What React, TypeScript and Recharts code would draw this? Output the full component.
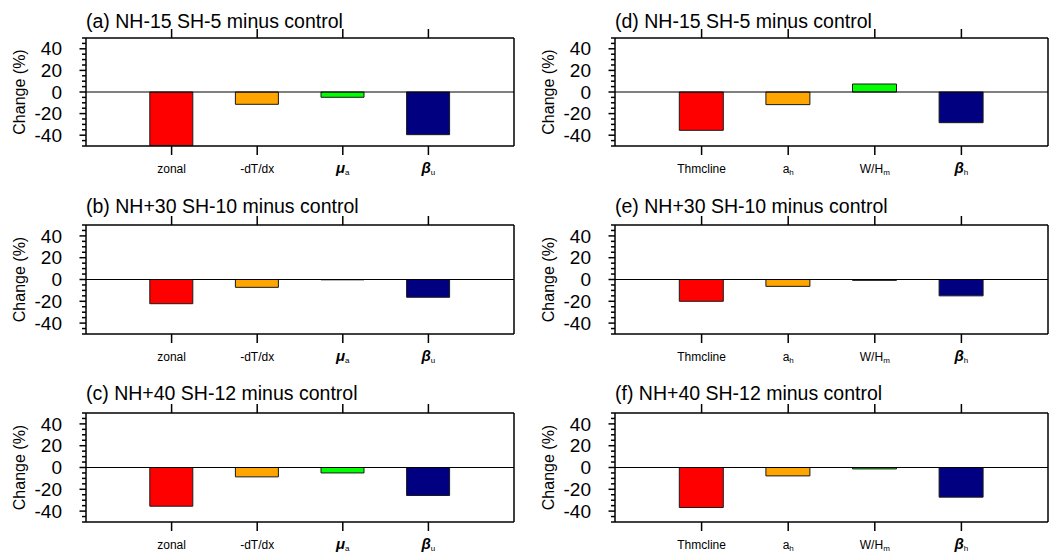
import { Bar, BarChart, Cell, ReferenceLine, XAxis, YAxis } from "recharts";

const FONT = '"Liberation Sans", Arial, Helvetica, sans-serif';

// category tick labels as [main, subscript]
const leftLabels: [string, string][] = [
  ["zonal", ""],
  ["-dT/dx", ""],
  ["μ", "a"],
  ["β", "u"],
];
const rightLabels: [string, string][] = [
  ["Thmcline", ""],
  ["a", "h"],
  ["W/H", "m"],
  ["β", "h"],
];

// percent change per panel
const panelA = [-49.5, -11.4, -4.9, -39.5];
const panelB = [-22.2, -7.2, -0.3, -16.3];
const panelC = [-35.5, -8.6, -5.0, -25.7];
const panelD = [-35.5, -11.7, 7.4, -28.4];
const panelE = [-20.0, -6.3, -0.8, -15.0];
const panelF = [-36.7, -7.7, -1.3, -27.2];

const titlesLeft = [
  "(a) NH-15 SH-5 minus control",
  "(b) NH+30 SH-10 minus control",
  "(c) NH+40 SH-12 minus control",
];
const titlesRight = [
  "(d) NH-15 SH-5 minus control",
  "(e) NH+30 SH-10 minus control",
  "(f) NH+40 SH-12 minus control",
];

const barColors = ["#ff0000", "#ffa500", "#00ff00", "#000080"];

const yTicks = [-50, -45, -40, -35, -30, -25, -20, -15, -10, -5, 0, 5, 10, 15, 20, 25, 30, 35, 40, 45, 50];
const yLabelTicks = [-40, -20, 0, 20, 40];

// layout (page px)
const rows = [
  { top: 38, h: 108, titleGap: 10 },
  { top: 225, h: 109, titleGap: 12 },
  { top: 413, h: 109, titleGap: 13 },
];
const cols = [
  { left: 86, w: 428, barSize: 43 },
  { left: 615, w: 433, barSize: 44 },
];

const PAD_L = 86;
const PAD_T = 38;
const PAD_R = 20;
const PAD_B = 42;
const TICK = "#000";
const TW = 1.5;

function LeftTick(props: any) {
  const { x, y, payload } = props;
  const major = yLabelTicks.includes(payload.value);
  return (
    <g>
      <line x1={x - (major ? 6.5 : 4)} x2={x} y1={y} y2={y} stroke={TICK} strokeWidth={TW} />
      {major ? (
        <text x={x - 24} y={y} dy="0.35em" textAnchor="end" fontSize={19} fontFamily={FONT} fill="#000">
          {payload.value}
        </text>
      ) : null}
    </g>
  );
}

function RightTick(props: any) {
  const { x, y, payload } = props;
  const major = yLabelTicks.includes(payload.value);
  return <line x1={x} x2={x + (major ? 6.5 : 4)} y1={y} y2={y} stroke={TICK} strokeWidth={TW} />;
}

function TopTick(props: any) {
  const { x, y } = props;
  return <line x1={x} x2={x} y1={y - 9} y2={y} stroke={TICK} strokeWidth={TW} />;
}

function CategoryTick(props: any) {
  const { x, y, payload, labels } = props;
  const idx = labels.findIndex((l: [string, string]) => l[0] + l[1] === payload.value);
  const [main, sub] = labels[idx] ?? [String(payload.value), ""];
  const greek = main === "μ" || main === "β";
  return (
    <g>
      <line x1={x} x2={x} y1={y} y2={y + 9} stroke={TICK} strokeWidth={TW} />
      <text x={x} y={y + 27} textAnchor="middle" fontFamily={FONT} fontSize={12} fill="#000">
        <tspan
          fontSize={greek ? 15 : 12}
          fontWeight={greek ? "bold" : "normal"}
          fontStyle={greek ? "italic" : "normal"}
        >
          {main}
        </tspan>
        {sub ? (
          <tspan fontSize={8} dy={2}>
            {sub}
          </tspan>
        ) : null}
      </text>
    </g>
  );
}

function Panel({
  title,
  values,
  labels,
  row,
  col,
}: {
  title: string;
  values: number[];
  labels: [string, string][];
  row: (typeof rows)[number];
  col: (typeof cols)[number];
}) {
  const data = labels.map((l, i) => ({ name: l[0] + l[1], value: values[i] }));
  const width = PAD_L + col.w + PAD_R;
  const height = PAD_T + row.h + PAD_B;
  const pad = { left: col.w / 10, right: col.w / 10 };

  return (
    <div style={{ position: "absolute", left: col.left - PAD_L, top: row.top - PAD_T, width, height }}>
      <BarChart width={width} height={height} data={data} margin={{ top: PAD_T - 10, right: 0, bottom: 0, left: 0 }}>
        <XAxis
          dataKey="name"
          xAxisId="bottom"
          orientation="bottom"
          height={PAD_B}
          padding={pad}
          interval={0}
          tickSize={0}
          tickMargin={0}
          tickLine={false}
          axisLine={{ stroke: "#000", strokeWidth: 1.5 }}
          tick={<CategoryTick labels={labels} />}
        />
        <XAxis
          dataKey="name"
          xAxisId="top"
          orientation="top"
          height={10}
          padding={pad}
          interval={0}
          tickSize={0}
          tickMargin={0}
          tickLine={false}
          axisLine={{ stroke: "#000", strokeWidth: 1.5 }}
          tick={TopTick}
          label={{
            content: () => (
              <text x={PAD_L} y={PAD_T - row.titleGap} fontFamily={FONT} fontSize={19.5} fill="#000">
                {title}
              </text>
            ),
          }}
        />
        <YAxis
          yAxisId="left"
          type="number"
          domain={[-50, 50]}
          ticks={yTicks}
          interval={0}
          width={PAD_L}
          tickSize={0}
          tickMargin={0}
          tickLine={false}
          axisLine={{ stroke: "#000", strokeWidth: 1.5 }}
          tick={LeftTick}
          label={{
            content: () => (
              <text
                x={25}
                y={PAD_T + row.h / 2}
                transform={`rotate(-90 25 ${PAD_T + row.h / 2})`}
                textAnchor="middle"
                fontFamily={FONT}
                fontSize={16}
                fill="#000"
              >
                Change (%)
              </text>
            ),
          }}
        />
        <YAxis
          yAxisId="right"
          orientation="right"
          type="number"
          domain={[-50, 50]}
          ticks={yTicks}
          interval={0}
          width={PAD_R}
          tickSize={0}
          tickMargin={0}
          tickLine={false}
          axisLine={{ stroke: "#000", strokeWidth: 1.5 }}
          tick={RightTick}
        />
        <ReferenceLine y={0} yAxisId="left" xAxisId="bottom" stroke="#000" strokeWidth={1} />
        <Bar
          dataKey="value"
          xAxisId="bottom"
          yAxisId="left"
          barSize={col.barSize}
          stroke="#1a1a1a"
          strokeWidth={1}
          isAnimationActive={false}
        >
          {data.map((d, i) => (
            <Cell key={d.name} fill={barColors[i]} />
          ))}
        </Bar>
      </BarChart>
    </div>
  );
}

export default function App() {
  const left = [panelA, panelB, panelC];
  const right = [panelD, panelE, panelF];
  return (
    <div
      style={{
        position: "absolute",
        left: 0,
        top: 0,
        width: 1051,
        height: 552,
        overflow: "hidden",
        background: "#fff",
        fontFamily: FONT,
      }}
    >
      {rows.map((row, r) => (
        <Panel key={`l${r}`} title={titlesLeft[r]} values={left[r]} labels={leftLabels} row={row} col={cols[0]} />
      ))}
      {rows.map((row, r) => (
        <Panel key={`r${r}`} title={titlesRight[r]} values={right[r]} labels={rightLabels} row={row} col={cols[1]} />
      ))}
    </div>
  );
}
